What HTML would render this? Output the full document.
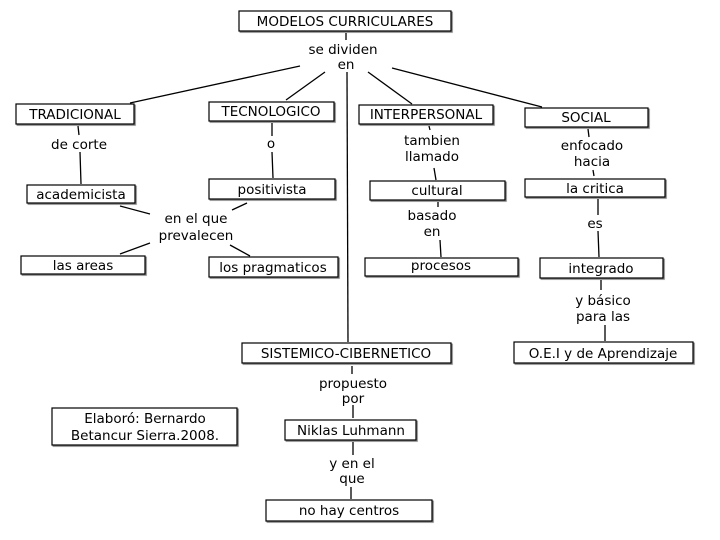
<!DOCTYPE html>
<html><head><meta charset="utf-8"><style>
body{margin:0;background:#fff}
svg{display:block}
text{font-family:"DejaVu Sans","Liberation Sans",sans-serif;font-size:13.5px;fill:#000;text-anchor:middle}
rect{fill:#fff;stroke:#000;stroke-width:1.2}
line{stroke:#000;stroke-width:1.3}
</style></head><body>
<svg width="720" height="540" viewBox="0 0 720 540">
<defs><filter id="s"><feDropShadow dx="1.2" dy="1.2" stdDeviation="0.3" flood-color="#000" flood-opacity="0.5"/></filter></defs>
<line x1="346" y1="33" x2="346" y2="40"/>
<line x1="300" y1="66" x2="130" y2="103"/>
<line x1="325" y1="72" x2="286" y2="100"/>
<line x1="368" y1="72" x2="412" y2="104"/>
<line x1="392" y1="68" x2="542" y2="107"/>
<line x1="347" y1="72" x2="348" y2="342"/>
<line x1="78" y1="126" x2="79" y2="135"/>
<line x1="80" y1="152" x2="81" y2="184"/>
<line x1="272" y1="123" x2="272" y2="136"/>
<line x1="272" y1="152" x2="273" y2="178"/>
<line x1="120" y1="206" x2="150" y2="214"/>
<line x1="232" y1="210" x2="247" y2="203"/>
<line x1="120" y1="254" x2="150" y2="243"/>
<line x1="230" y1="245" x2="250" y2="256"/>
<line x1="429" y1="126" x2="430" y2="130"/>
<line x1="434" y1="168" x2="436" y2="180"/>
<line x1="438" y1="202" x2="438" y2="207"/>
<line x1="440" y1="240" x2="441" y2="257"/>
<line x1="588" y1="129" x2="589" y2="137"/>
<line x1="593" y1="170" x2="594" y2="176"/>
<line x1="598" y1="199" x2="598" y2="215"/>
<line x1="598" y1="231" x2="599" y2="257"/>
<line x1="601" y1="280" x2="601" y2="290"/>
<line x1="605" y1="325" x2="605" y2="341"/>
<line x1="352" y1="366" x2="352" y2="374"/>
<line x1="353" y1="405" x2="353" y2="418"/>
<line x1="353" y1="442" x2="353" y2="455"/>
<line x1="351" y1="487" x2="351" y2="499"/>
<g filter="url(#s)">
<rect x="239" y="11" width="212" height="20"/>
<rect x="16" y="104" width="118" height="20"/>
<rect x="209" y="102" width="125" height="19"/>
<rect x="359" y="105" width="134" height="19"/>
<rect x="525" y="108" width="123" height="19"/>
<rect x="27" y="185" width="108" height="18"/>
<rect x="209" y="179" width="126" height="20"/>
<rect x="370" y="181" width="135" height="19"/>
<rect x="525" y="179" width="140" height="18"/>
<rect x="21" y="256" width="124" height="18"/>
<rect x="209" y="257" width="129" height="20"/>
<rect x="365" y="258" width="153" height="18"/>
<rect x="540" y="258" width="123" height="20"/>
<rect x="514" y="342" width="179" height="21"/>
<rect x="242" y="343" width="209" height="20"/>
<rect x="52" y="408" width="185" height="37"/>
<rect x="285" y="420" width="131" height="20"/>
<rect x="266" y="500" width="166" height="21"/>
</g>
<text x="345" y="26">MODELOS CURRICULARES</text>
<text x="343" y="54">se dividen</text>
<text x="346" y="69">en</text>
<text x="75" y="119">TRADICIONAL</text>
<text x="271" y="116">TECNOLOGICO</text>
<text x="426" y="119">INTERPERSONAL</text>
<text x="586" y="122">SOCIAL</text>
<text x="79" y="149">de corte</text>
<text x="271" y="148">o</text>
<text x="432" y="145">tambien</text>
<text x="432" y="161">llamado</text>
<text x="592" y="150">enfocado</text>
<text x="592" y="166">hacia</text>
<text x="81" y="199">academicista</text>
<text x="272" y="194">positivista</text>
<text x="437" y="195">cultural</text>
<text x="595" y="193">la critica</text>
<text x="196" y="223">en el que</text>
<text x="196" y="240">prevalecen</text>
<text x="432" y="220">basado</text>
<text x="432" y="236">en</text>
<text x="595" y="228">es</text>
<text x="83" y="270">las areas</text>
<text x="273" y="272">los pragmaticos</text>
<text x="441" y="270">procesos</text>
<text x="601" y="273">integrado</text>
<text x="603" y="305">y básico</text>
<text x="603" y="321">para las</text>
<text x="603" y="358">O.E.I y de Aprendizaje</text>
<text x="346" y="358">SISTEMICO-CIBERNETICO</text>
<text x="353" y="388">propuesto</text>
<text x="353" y="403">por</text>
<text x="145" y="423">Elaboró: Bernardo</text>
<text x="145" y="440">Betancur Sierra.2008.</text>
<text x="351" y="435">Niklas Luhmann</text>
<text x="352" y="468">y en el</text>
<text x="352" y="483">que</text>
<text x="349" y="515">no hay centros</text>
</svg>
</body></html>
